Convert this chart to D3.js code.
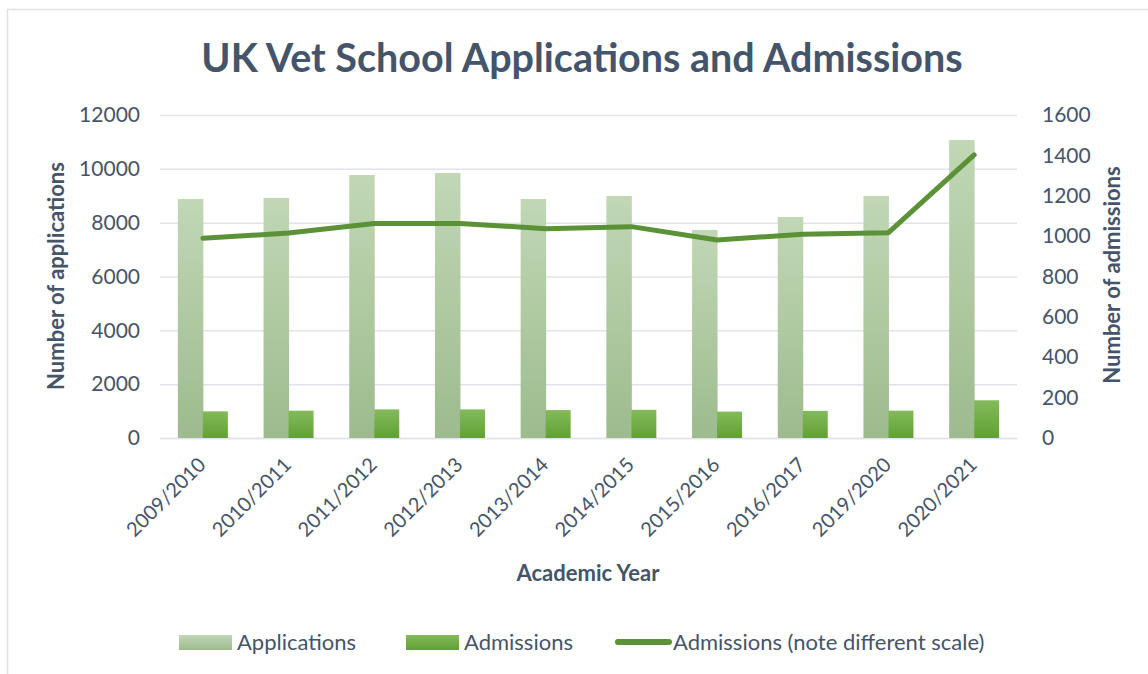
<!DOCTYPE html>
<html>
<head>
<meta charset="utf-8">
<script src="https://cdn.jsdelivr.net/npm/d3@7"></script>
<style>
  body { margin: 0; background: #fff; }
  text { font-family: Lato, "Open Sans", sans-serif; fill: #44546a; }
</style>
</head>
<body>
<script>
// data
const years = ['2009/2010', '2010/2011', '2011/2012', '2012/2013', '2013/2014',
  '2014/2015', '2015/2016', '2016/2017', '2019/2020', '2020/2021']
const applications = [8880, 8920, 9770, 9845, 8880, 8990, 7730, 8210, 8990, 11070]
const admissions = [990, 1015, 1063, 1063, 1037, 1047, 981, 1009, 1017, 1402]
const leftTicks = [0, 2000, 4000, 6000, 8000, 10000, 12000]
const rightTicks = [0, 200, 400, 600, 800, 1000, 1200, 1400, 1600]

const width = 1148
const height = 674
const margin = { top: 115, left: 160, right: 131, bottom: 236 }
const innerWidth = width - margin.left - margin.right
const innerHeight = height - margin.top - margin.bottom

const svg = d3.select('body').append('svg')
  .attr('width', width)
  .attr('height', height)

// gradients for bars
const defs = svg.append('defs')
function grad(id, top, bottom) {
  const g = defs.append('linearGradient').attr('id', id)
    .attr('x1', 0).attr('y1', 0).attr('x2', 0).attr('y2', 1)
  g.append('stop').attr('offset', '0%').attr('stop-color', top)
  g.append('stop').attr('offset', '100%').attr('stop-color', bottom)
}
grad('appGrad', '#c1d7b5', '#9dbb8e')
grad('admGrad', '#83ba5b', '#61a133')

// chart frame
svg.append('line').attr('x1', 7).attr('x2', width).attr('y1', 9.5).attr('y2', 9.5)
  .attr('stroke', '#e0e4ea').attr('stroke-width', 1.5)
svg.append('line').attr('x1', 7.5).attr('x2', 7.5).attr('y1', 9).attr('y2', height)
  .attr('stroke', '#e0e4ea').attr('stroke-width', 1.5)

// title
svg.append('text')
  .text('UK Vet School Applications and Admissions')
    .attr('x', 582)
    .attr('y', 72)
    .attr('text-anchor', 'middle')
    .style('font-size', '39.5px')
    .style('font-weight', 'bold')

const g = svg.append('g')
  .attr('transform', `translate(${margin.left},${margin.top})`)

const xScale = d3.scaleBand()
  .domain(years)
  .range([0, innerWidth])

const yLeft = d3.scaleLinear()
  .domain([0, 12000])
  .range([innerHeight, 0])

const yRight = d3.scaleLinear()
  .domain([0, 1600])
  .range([innerHeight, 0])

// gridlines + left axis
const yAxisLeft = d3.axisLeft(yLeft)
  .tickValues(leftTicks)
  .tickFormat(d3.format('d'))
  .tickSize(-innerWidth)
  .tickPadding(20)

g.append('g').call(yAxisLeft)
  .call(a => a.select('.domain').remove())
  .call(a => a.selectAll('line').attr('stroke', '#e0e4ea').attr('stroke-width', 1.5))
  .call(a => a.selectAll('text').style('font-size', '21px').attr('fill', '#44546a'))

// right axis
const yAxisRight = d3.axisRight(yRight)
  .tickValues(rightTicks)
  .tickFormat(d3.format('d'))
  .tickSize(0)
  .tickPadding(25)

g.append('g').call(yAxisRight)
  .attr('transform', `translate(${innerWidth},0)`)
  .call(a => a.select('.domain').remove())
  .call(a => a.selectAll('text').style('font-size', '21px').attr('fill', '#44546a'))

// x axis labels
const xAxis = d3.axisBottom(xScale).tickSize(0).tickPadding(0)
g.append('g').call(xAxis)
  .attr('transform', `translate(0,${innerHeight})`)
  .call(a => a.select('.domain').attr('stroke', '#e0e4ea').attr('stroke-width', 1.5))
  .call(a => a.selectAll('text')
    .style('font-size', '20px')
    .attr('fill', '#44546a')
    .attr('text-anchor', 'end')
    .attr('dy', null)
    .attr('y', 0)
    .attr('transform', 'translate(4,28) rotate(-45)'))

// bars
const pair = 50
const barW = pair / 2
g.selectAll('.app')
  .data(years)
  .enter()
  .append('rect')
    .attr('class', 'app')
    .attr('x', d => xScale(d) + xScale.bandwidth() / 2 - pair / 2)
    .attr('y', (d, i) => yLeft(applications[i]))
    .attr('width', barW + 0.5)
    .attr('height', (d, i) => innerHeight - yLeft(applications[i]))
    .attr('fill', 'url(#appGrad)')

g.selectAll('.adm')
  .data(years)
  .enter()
  .append('rect')
    .attr('class', 'adm')
    .attr('x', d => xScale(d) + xScale.bandwidth() / 2)
    .attr('y', (d, i) => yLeft(admissions[i]))
    .attr('width', barW)
    .attr('height', (d, i) => innerHeight - yLeft(admissions[i]))
    .attr('fill', 'url(#admGrad)')

// admissions line on right scale
const line = d3.line()
  .x(d => xScale(d) + xScale.bandwidth() / 2)
  .y((d, i) => yRight(admissions[i]))

g.append('path')
  .datum(years)
  .attr('d', line)
  .attr('fill', 'none')
  .attr('stroke', '#5b9137')
  .attr('stroke-width', 5)
  .attr('stroke-linecap', 'round')
  .attr('stroke-linejoin', 'round')

// axis titles
svg.append('text')
  .text('Number of applications')
    .attr('transform', 'translate(64,276) rotate(-90)')
    .attr('text-anchor', 'middle')
    .style('font-size', '22px')
    .style('font-weight', 'bold')

svg.append('text')
  .text('Number of admissions')
    .attr('transform', 'translate(1120,275) rotate(-90)')
    .attr('text-anchor', 'middle')
    .style('font-size', '22px')
    .style('font-weight', 'bold')

svg.append('text')
  .text('Academic Year')
    .attr('x', 588)
    .attr('y', 581)
    .attr('text-anchor', 'middle')
    .style('font-size', '22px')
    .style('font-weight', 'bold')

// legend
const legend = svg.append('g').attr('transform', 'translate(0,642)')
const items = [
  { label: 'Applications', x: 179, type: 'rect', fill: 'url(#appGrad)' },
  { label: 'Admissions', x: 406, type: 'rect', fill: 'url(#admGrad)' },
  { label: 'Admissions (note different scale)', x: 615, type: 'line' }
]
items.forEach(it => {
  if (it.type === 'rect') {
    legend.append('rect')
      .attr('x', it.x).attr('y', -7).attr('width', 53).attr('height', 15)
      .attr('fill', it.fill)
  } else {
    legend.append('line')
      .attr('x1', it.x + 3).attr('x2', it.x + 54).attr('y1', 0).attr('y2', 0)
      .attr('stroke', '#5b9137').attr('stroke-width', 6).attr('stroke-linecap', 'round')
  }
  legend.append('text')
    .text(it.label)
      .attr('x', it.x + 58)
      .attr('y', 8)
      .style('font-size', '22px')
})
</script>
</body>
</html>
